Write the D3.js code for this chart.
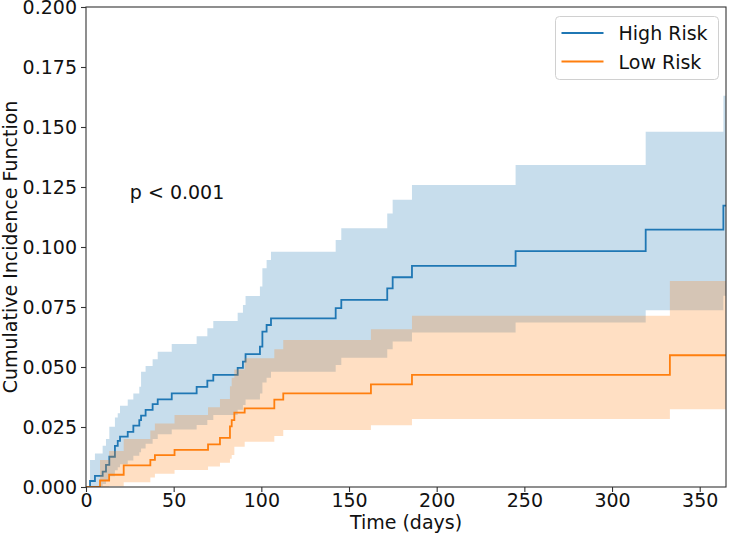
<!DOCTYPE html>
<html>
<head>
<meta charset="utf-8">
<script src="https://cdn.jsdelivr.net/npm/d3@7"></script>
<style>
  html, body { margin: 0; padding: 0; background: #fff; }
  svg { display: block; font-family: "DejaVu Sans", sans-serif; }
</style>
</head>
<body>
<svg id="chart" width="730" height="534"></svg>
<script>
// ---- data ----
const seriesNames = ["High Risk", "Low Risk"];
const seriesColors = ["#1f77b4", "#ff7f0e"];

const highTimes = [0, 2.3, 5.1, 9.5, 11.4, 13.3, 16.5, 18.1, 19.4, 23.8, 27, 30.4, 31.4, 34, 38, 40.9, 48.9, 63.1, 69.2, 72.6, 86.5, 89.5, 91, 99.2, 100.6, 103, 105.5, 142.4, 145.6, 171.8, 174.9, 185.9, 245, 319.2, 363.5];
const highCIF   = [0, 0.0025, 0.0046, 0.0064, 0.0092, 0.0126, 0.0171, 0.0192, 0.021, 0.023, 0.0256, 0.0279, 0.0297, 0.0321, 0.0345, 0.0365, 0.039, 0.0417, 0.0443, 0.0467, 0.0496, 0.0522, 0.0554, 0.0585, 0.0647, 0.0675, 0.0703, 0.0745, 0.078, 0.0828, 0.0874, 0.0921, 0.0983, 0.1072, 0.1172];
const highUpper = [0, 0.0113, 0.014, 0.0172, 0.020, 0.0251, 0.029, 0.0307, 0.0339, 0.0365, 0.039, 0.0418, 0.048, 0.0504, 0.0532, 0.0564, 0.0596, 0.0628, 0.0661, 0.0692, 0.0726, 0.0758, 0.0796, 0.0835, 0.0911, 0.0946, 0.098, 0.1029, 0.1078, 0.114, 0.1197, 0.1258, 0.1342, 0.148, 0.163];
const highLower = [0, 0, 0.0004, 0.0012, 0.0025, 0.0045, 0.007, 0.0082, 0.0095, 0.011, 0.013, 0.0145, 0.016, 0.018, 0.020, 0.022, 0.024, 0.0258, 0.0279, 0.030, 0.0322, 0.0342, 0.0365, 0.039, 0.0435, 0.0455, 0.048, 0.0508, 0.0539, 0.0574, 0.0606, 0.0644, 0.0685, 0.0736, 0.0797];

const lowTimes = [0, 8, 13.2, 21.5, 36.7, 39.3, 50.5, 69.6, 76.4, 82.1, 83.1, 84.6, 90.5, 107.4, 112.5, 162.5, 185.9, 333];
const lowCIF   = [0, 0.0027, 0.0051, 0.009, 0.0113, 0.0133, 0.0155, 0.0178, 0.0205, 0.0253, 0.0279, 0.031, 0.0328, 0.0364, 0.039, 0.0428, 0.0467, 0.0549];
const lowUpper = [0, 0.0113, 0.015, 0.020, 0.0235, 0.0265, 0.030, 0.0332, 0.0367, 0.042, 0.0455, 0.049, 0.0536, 0.0574, 0.0613, 0.0657, 0.0714, 0.0858];
const lowLower = [0, 0, 0.0003, 0.002, 0.004, 0.0055, 0.0071, 0.0085, 0.0101, 0.0118, 0.0133, 0.0168, 0.0189, 0.0213, 0.0238, 0.0257, 0.0283, 0.0324];

const maxTime = 365;
const xTicks = [0, 50, 100, 150, 200, 250, 300, 350];
const yTicks = [0, 0.025, 0.05, 0.075, 0.1, 0.125, 0.15, 0.175, 0.2];
const pText = "p < 0.001";
const pPos = [25, 0.12];

// ---- layout ----
const svg = d3.select("#chart");
const m = { left: 86, top: 7, right: 4, bottom: 47 };
const W = 730 - m.left - m.right, H = 534 - m.top - m.bottom;
const g = svg.append("g").attr("transform", `translate(${m.left},${m.top})`);

const x = d3.scaleLinear().domain([0, maxTime]).range([0, W]);
const y = d3.scaleLinear().domain([0, 0.2]).range([H, 0]);

function build(times, est, lo, hi) {
  const rows = times.map((t, i) => ({ t, est: est[i], lo: lo[i], hi: hi[i] }));
  const last = rows[rows.length - 1];
  rows.push({ t: maxTime, est: last.est, lo: last.lo, hi: last.hi });
  return rows;
}
const series = [
  build(highTimes, highCIF, highLower, highUpper),
  build(lowTimes, lowCIF, lowLower, lowUpper)
];

const clip = svg.append("defs").append("clipPath").attr("id", "clip");
clip.append("rect").attr("width", W).attr("height", H);
const plot = g.append("g").attr("clip-path", "url(#clip)");

const area = d3.area().curve(d3.curveStepAfter)
  .x(d => x(d.t)).y0(d => y(d.lo)).y1(d => y(d.hi));
const line = d3.line().curve(d3.curveStepAfter)
  .x(d => x(d.t)).y(d => y(d.est));

series.forEach((s, i) => {
  plot.append("path").datum(s).attr("d", area)
    .attr("fill", seriesColors[i]).attr("fill-opacity", 0.25).attr("stroke", "none");
  plot.append("path").datum(s).attr("d", line)
    .attr("fill", "none").attr("stroke", seriesColors[i]).attr("stroke-width", 1.8);
});

// ---- axes ----
const fs = 19;
const xAxis = g.append("g").attr("transform", `translate(0,${H})`)
  .call(d3.axisBottom(x).tickValues(xTicks).tickFormat(d3.format("d")).tickSize(5).tickPadding(2));
const yAxis = g.append("g")
  .call(d3.axisLeft(y).tickValues(yTicks).tickFormat(d3.format(".3f")).tickSize(5).tickPadding(4));
[xAxis, yAxis].forEach(a => {
  a.select(".domain").remove();
  a.selectAll(".tick line").attr("stroke", "#333").attr("stroke-width", 1.1);
  a.selectAll(".tick text").attr("fill", "#111").style("font-size", fs + "px")
    .style("font-family", '"DejaVu Sans", sans-serif');
});
yAxis.selectAll(".tick text").attr("dy", "0.35em");

// spines
g.append("rect").attr("width", W).attr("height", H)
  .attr("fill", "none").attr("stroke", "#333").attr("stroke-width", 1.1);

// labels
g.append("text").attr("x", W / 2).attr("y", H + 42).attr("text-anchor", "middle")
  .attr("fill", "#111").style("font-size", fs + "px").text("Time (days)");
svg.append("text").attr("transform", `translate(17,${m.top + H / 2}) rotate(-90)`)
  .attr("text-anchor", "middle").attr("fill", "#111").style("font-size", fs + "px")
  .text("Cumulative Incidence Function");

g.append("text").attr("x", x(pPos[0])).attr("y", y(pPos[1]) - 0.5)
  .attr("fill", "#111").style("font-size", fs + "px").text(pText);

// legend
const lg = g.append("g").attr("transform", `translate(${555.5 - m.left},${16.5 - m.top})`);
lg.append("rect").attr("width", 163).attr("height", 63).attr("rx", 4)
  .attr("fill", "#fff").attr("fill-opacity", 0.8).attr("stroke", "#d0d0d0");
seriesNames.forEach((n, i) => {
  const yy = 16.5 + i * 28.5;
  lg.append("line").attr("x1", 6).attr("x2", 48).attr("y1", yy).attr("y2", yy)
    .attr("stroke", seriesColors[i]).attr("stroke-width", 1.8);
  lg.append("text").attr("x", 63).attr("y", yy + 7).attr("fill", "#111")
    .style("font-size", fs + "px").text(n);
});
</script>
</body>
</html>
